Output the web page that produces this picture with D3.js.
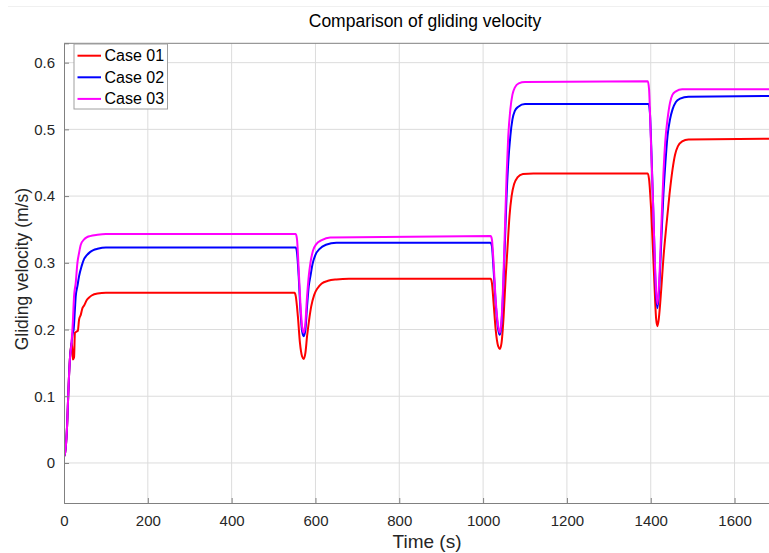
<!DOCTYPE html>
<html>
<head>
<meta charset="utf-8">
<script src="https://cdn.jsdelivr.net/npm/d3@7"></script>
<style>
  html, body { margin: 0; padding: 0; background: #fff; }
  svg { display: block; font-family: "Liberation Sans", Arial, sans-serif; }
</style>
</head>
<body>
<svg id="chart" width="769" height="553"></svg>
<script>
// ---- Data (time in s, gliding velocity in m/s) ----
const seriesNames = ["Case 01", "Case 02", "Case 03"];
const seriesColors = ["#ff0000", "#0000ff", "#ff00ff"];

const case01 = [
  [0,0.010],[2,0.013],[8,0.065],[10,0.10],[14,0.155],[18,0.18],[20,0.17],[21,0.155],[24,0.158],
  [26,0.195],[30,0.197],[33,0.198],[36,0.215],[40,0.222],[44,0.232],[48,0.236],[54,0.244],
  [60,0.248],[66,0.251],[80,0.254],[100,0.255],[550,0.255],[553,0.250],
  [558,0.22],[563,0.18],[568,0.16],[572,0.156],[576,0.165],[580,0.19],[585,0.215],[590,0.235],
  [597,0.252],[605,0.262],[615,0.269],[630,0.273],[650,0.275],[680,0.276],[1018,0.276],[1021,0.27],
  [1025,0.24],[1030,0.2],[1036,0.175],[1040,0.171],[1044,0.18],[1049,0.22],[1054,0.28],[1058,0.32],
  [1063,0.37],[1068,0.40],[1074,0.418],[1082,0.428],[1095,0.433],[1120,0.434],[1393,0.434],[1396,0.425],
  [1401,0.379],[1408,0.28],[1413,0.215],[1416,0.205],[1419,0.215],[1425,0.26],[1430,0.305],[1437,0.354],
  [1445,0.404],[1452,0.44],[1458,0.462],[1465,0.475],[1475,0.482],[1490,0.485],[1700,0.486]
];
const case02 = [
  [0,0.010],[2,0.013],[8,0.065],[10,0.10],[14,0.155],[18,0.18],[21,0.195],[23,0.20],[26,0.23],
  [28,0.25],[32,0.265],[36,0.28],[42,0.295],[48,0.306],[54,0.311],[62,0.316],[70,0.319],[80,0.321],
  [100,0.323],[553,0.323],[556,0.315],
  [560,0.28],[564,0.23],[568,0.198],[572,0.19],[576,0.2],[580,0.235],[584,0.265],[588,0.28],
  [593,0.298],[600,0.312],[610,0.321],[625,0.327],[650,0.33],[1018,0.33],[1021,0.325],
  [1025,0.29],[1030,0.24],[1036,0.2],[1040,0.192],[1044,0.21],[1048,0.26],[1052,0.33],[1056,0.4],
  [1060,0.45],[1065,0.49],[1070,0.515],[1076,0.528],[1084,0.534],[1100,0.538],[1395,0.538],[1398,0.525],
  [1402,0.46],[1407,0.36],[1412,0.26],[1416,0.232],[1420,0.26],[1425,0.33],[1430,0.4],[1435,0.45],
  [1440,0.49],[1446,0.515],[1452,0.53],[1460,0.541],[1470,0.546],[1490,0.549],[1700,0.55]
];
const case03 = [
  [0,0.010],[2,0.013],[8,0.065],[10,0.10],[14,0.155],[18,0.18],[21,0.21],[24,0.25],[28,0.27],
  [32,0.30],[36,0.315],[40,0.327],[48,0.335],[54,0.338],[62,0.34],[80,0.342],[100,0.343],
  [553,0.343],[556,0.335],
  [560,0.29],[564,0.24],[568,0.205],[572,0.195],[576,0.21],[580,0.25],[584,0.28],[588,0.30],
  [594,0.318],[602,0.328],[615,0.334],[635,0.338],[1018,0.34],[1021,0.335],
  [1025,0.30],[1030,0.245],[1036,0.205],[1040,0.195],[1044,0.215],[1048,0.27],[1052,0.35],[1056,0.43],
  [1060,0.49],[1065,0.53],[1070,0.552],[1076,0.563],[1085,0.569],[1100,0.571],[1393,0.572],[1396,0.56],
  [1400,0.49],[1406,0.38],[1411,0.28],[1416,0.238],[1420,0.27],[1425,0.35],[1430,0.43],[1435,0.485],
  [1440,0.515],[1446,0.54],[1452,0.552],[1460,0.557],[1475,0.56],[1700,0.56]
];
const allSeries = [case01, case02, case03];

const xTicks = [0, 200, 400, 600, 800, 1000, 1200, 1400, 1600];
const yTicks = [0, 0.1, 0.2, 0.3, 0.4, 0.5, 0.6];
const xDomain = [0, 1700];
const yDomain = [-0.06, 0.629];

const titleText = "Comparison of gliding velocity";
const xLabelText = "Time (s)";
const yLabelText = "Gliding velocity (m/s)";

// ---- Layout ----
const mLeft = 64, mTop = 43.3, mBottom = 503;
const pxPerSec = 0.4191;
const mRight = mLeft + (xDomain[1] - xDomain[0]) * pxPerSec;

const svg = d3.select("#chart");
const x = d3.scaleLinear().domain(xDomain).range([mLeft, mRight]);
const y = d3.scaleLinear().domain(yDomain).range([mBottom, mTop]);

// faint figure separator line at the very top
svg.append("line").attr("x1", 8).attr("x2", 769).attr("y1", 6.5).attr("y2", 6.5)
  .attr("stroke", "#f0f0f0").attr("stroke-width", 1);

svg.append("defs").append("clipPath").attr("id", "plotclip")
  .append("rect").attr("x", mLeft).attr("y", mTop).attr("width", mRight - mLeft).attr("height", mBottom - mTop);

svg.append("rect").attr("x", mLeft).attr("y", mTop).attr("width", mRight - mLeft).attr("height", mBottom - mTop)
  .attr("fill", "#fff");

// grid
const grid = svg.append("g").attr("clip-path", "url(#plotclip)");
grid.selectAll("line.gx").data(xTicks).join("line").attr("class", "gx")
  .attr("x1", d => x(d)).attr("x2", d => x(d)).attr("y1", mTop).attr("y2", mBottom)
  .attr("stroke", "#dcdcdc").attr("stroke-width", 1);
grid.selectAll("line.gy").data(yTicks).join("line").attr("class", "gy")
  .attr("x1", mLeft).attr("x2", mRight).attr("y1", d => y(d)).attr("y2", d => y(d))
  .attr("stroke", "#dcdcdc").attr("stroke-width", 1);

// lines
const line = d3.line().x(d => x(d[0])).y(d => y(d[1])).curve(d3.curveMonotoneX);
svg.append("g").attr("clip-path", "url(#plotclip)")
  .selectAll("path").data(allSeries).join("path")
  .attr("d", d => line(d))
  .attr("fill", "none")
  .attr("stroke", (d, i) => seriesColors[i])
  .attr("stroke-width", 2)
  .attr("stroke-linejoin", "round");

// axes (MATLAB-style inward ticks)
const axisColor = "#262626";
const xAxis = d3.axisBottom(x).tickValues(xTicks).tickSize(-5).tickPadding(12).tickFormat(d3.format("d"));
const gx = svg.append("g").attr("transform", `translate(0,${mBottom})`).call(xAxis);
gx.select(".domain").attr("stroke", "#808080");
gx.selectAll(".tick line").attr("stroke", "#808080");
gx.selectAll("text").attr("fill", axisColor).attr("font-size", 15);

const yAxis = d3.axisLeft(y).tickValues(yTicks).tickSize(-5).tickPadding(9)
  .tickFormat(d => d === 0 ? "0" : d3.format(".1f")(d));
const gy = svg.append("g").attr("transform", `translate(${mLeft},0)`).call(yAxis);
gy.select(".domain").attr("stroke", "#808080");
gy.selectAll(".tick line").attr("stroke", "#808080");
gy.selectAll("text").attr("fill", axisColor).attr("font-size", 15);

// top border
svg.append("line").attr("x1", mLeft).attr("x2", mRight).attr("y1", mTop).attr("y2", mTop)
  .attr("stroke", "#808080").attr("stroke-width", 1);

// title & labels
svg.append("text").attr("x", 425).attr("y", 27).attr("text-anchor", "middle")
  .attr("font-size", 17.5).attr("fill", "#000").text(titleText);
svg.append("text").attr("x", 427).attr("y", 548).attr("text-anchor", "middle")
  .attr("font-size", 19).attr("fill", axisColor).text(xLabelText);
svg.append("text").attr("transform", `translate(28,${(mTop + mBottom) / 2 - 4}) rotate(-90)`)
  .attr("text-anchor", "middle").attr("font-size", 17.5).attr("fill", axisColor).text(yLabelText);

// legend
const lg = svg.append("g");
lg.append("rect").attr("x", 74).attr("y", 44).attr("width", 93.5).attr("height", 65)
  .attr("fill", "#fff").attr("stroke", "#a0a0a0").attr("stroke-width", 1);
seriesNames.forEach((name, i) => {
  const yy = 55.7 + i * 21.6;
  lg.append("line").attr("x1", 77.5).attr("x2", 101).attr("y1", yy).attr("y2", yy)
    .attr("stroke", seriesColors[i]).attr("stroke-width", 2);
  lg.append("text").attr("x", 104.5).attr("y", yy + 5.5).attr("font-size", 16)
    .attr("fill", "#000").text(name);
});
</script>
</body>
</html>
